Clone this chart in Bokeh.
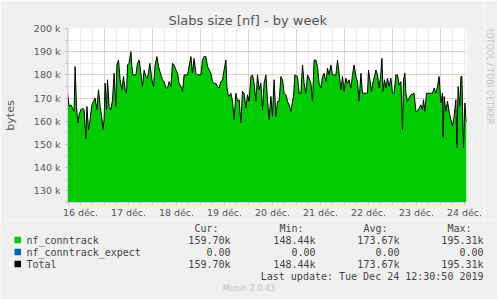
from bokeh.plotting import figure
from bokeh.layouts import column, row
from bokeh.models import FixedTicker, Range1d, ColumnDataSource
from bokeh.core.properties import value
from bokeh.embed import file_html
from bokeh.resources import INLINE

# ---------------- data ----------------
START = "2019-12-16 05:30"   # left edge of the graph, x = hours since START
hours = [0.0, 0.8, 1.7, 2.5, 3.3, 3.8, 4.5, 5.2, 5.8, 6.7, 7.5, 8.3, 9.2, 9.7, 10.5, 11.3, 12.2, 13.0, 13.8, 14.7,
         15.5, 16.3, 17.2, 17.7, 18.3, 18.8, 19.5, 20.0, 20.8, 21.7, 22.5, 23.3, 24.2, 24.7, 25.5, 26.3, 27.2, 28.0,
         28.8, 29.5, 30.0, 30.8, 31.7, 32.2, 32.7, 34.2, 35.0, 35.8, 36.7, 37.5, 38.3, 39.2, 40.0, 41.2, 42.2, 43.0,
         43.8, 44.7, 45.5, 46.7, 47.5, 48.3, 49.2,
         50.0, 50.8, 51.7, 52.5, 53.3, 54.2, 55.0, 55.8, 56.7, 57.5, 58.3, 60.0, 60.8, 61.7, 62.5, 63.3, 64.2, 65.0,
         66.7, 67.5, 68.3, 69.2, 70.0, 70.8, 71.7, 72.5, 73.3, 74.2, 75.0, 75.8, 76.7, 77.5, 78.3, 79.2, 79.7, 80.3,
         80.8, 81.7, 82.5, 83.3, 84.2, 85.0, 85.8, 86.7, 87.5, 88.3, 89.2, 90.0, 90.8, 91.7, 92.5, 93.3, 94.2, 95.0,
         95.8, 96.7, 97.5,
         98.3, 99.2, 100.0, 100.8, 101.7, 102.5, 103.3, 104.2, 105.0, 105.8, 106.7, 107.5, 108.3, 109.2, 110.0,
         110.8, 111.7, 112.5, 113.0, 113.7, 115.0, 115.8, 116.7, 117.5, 118.3, 119.2, 120.0, 120.8, 121.7, 122.5,
         123.3, 124.2, 125.0, 125.8, 126.7, 127.5, 128.3, 129.2, 130.0, 130.8, 131.7, 132.5, 134.2, 135.0, 135.8,
         136.7, 137.5, 138.3, 139.2, 140.0, 140.8, 141.7, 142.5, 143.3, 144.2, 145.0, 145.8, 146.7, 147.5,
         149.2, 150.0, 150.5, 151.2, 152.0, 152.8, 153.7, 154.2, 155.0, 155.8, 156.7, 157.2, 157.8, 158.5, 159.2,
         160.0, 160.8, 161.7, 162.5, 163.3, 164.2, 165.0, 165.8, 166.7, 167.5, 168.0, 168.7, 169.2, 170.0, 170.8,
         171.7, 173.3, 174.2, 175.0, 175.8, 176.7, 177.5, 178.0, 178.7, 179.5, 182.5, 183.3, 184.2, 185.0, 185.8,
         186.7, 187.5, 187.8, 188.3, 189.2, 190.0, 190.8, 191.7, 192.5, 193.3, 194.2, 194.7, 195.3, 196.2, 196.7,
         197.2, 197.5, 198.0, 198.7, 199.2, 199.5]
conntrack_k = [172.1, 166.4, 167.1, 165.7, 164.3, 183.6, 166.4, 159.3, 162.9, 165.0, 165.7, 165.0, 152.6, 166.4,
               156.4, 160.7, 167.1, 168.6, 170.0, 165.0, 173.6, 166.4, 161.4, 156.4, 160.7, 176.4, 165.0, 177.9,
               166.4, 165.0, 169.3, 180.7, 166.4, 184.3, 186.4, 177.9, 173.6, 179.3, 173.6, 172.1, 184.3, 185.0,
               190.0, 183.6, 180.0, 180.0, 185.0, 186.4, 180.7, 175.0, 182.1, 179.3, 178.6, 185.0, 177.9, 175.0,
               184.3, 187.9, 183.6, 180.0, 177.9, 177.1, 174.3,
               174.3, 177.1, 175.0, 185.0, 184.3, 182.1, 180.7, 176.4, 175.0, 172.9, 180.0, 180.0, 183.6, 187.9,
               180.7, 187.1, 180.7, 180.0, 180.0, 186.4, 187.9, 187.9, 183.6, 182.1, 180.7, 177.1, 176.4, 176.4,
               175.0, 174.3, 177.1, 177.9, 182.1, 186.4, 175.0, 171.4, 170.7, 172.1, 168.6, 160.7, 172.1, 168.6,
               169.3, 159.3, 172.9, 172.1, 165.7, 171.4, 168.6, 179.3, 180.0, 176.4, 168.6, 180.0, 173.6, 176.4,
               165.0,
               176.4, 180.0, 169.3, 160.7, 170.7, 162.1, 177.9, 162.1, 168.6, 168.6, 179.3, 177.9, 172.1, 171.4,
               168.6, 167.1, 164.3, 168.6, 170.7, 180.0, 179.3, 172.1, 172.1, 184.3, 176.4, 172.1, 180.0, 178.6,
               176.4, 168.6, 186.4, 186.4, 183.6, 176.4, 174.3, 179.3, 180.7, 177.1, 182.9, 180.0, 184.3, 180.0,
               180.0, 186.4, 180.7, 173.6, 179.3, 172.9, 178.6, 176.4, 177.9, 174.3, 180.0, 184.3, 179.3, 177.1,
               168.6, 180.7, 172.1,
               172.1, 172.1, 182.1, 177.9, 172.9, 177.1, 180.0, 182.1, 180.0, 174.3, 180.7, 187.1, 172.9, 177.9,
               174.3, 178.6, 175.0, 178.6, 172.1, 172.1, 180.0, 180.0, 175.7, 177.1, 156.4, 177.9, 180.7, 172.1,
               168.6, 170.0, 171.4, 172.1, 164.3, 164.3, 165.7, 167.1, 165.0, 169.3, 164.3, 172.1, 172.1, 174.3,
               172.1, 175.0, 179.3, 167.9, 172.1, 152.9, 170.7, 164.3, 168.6, 164.3, 160.7, 157.9, 162.1, 169.3,
               148.6, 175.0, 166.4, 179.3, 179.3, 166.4, 148.6, 167.9, 162.1, 159.7]
expect_k = [0.0] * len(conntrack_k)

day_labels = ["16 déc.", "17 déc.", "18 déc.", "19 déc.", "20 déc.", "21 déc.", "22 déc.", "23 déc.", "24 déc."]
y_tick_values = [130000, 140000, 150000, 160000, 170000, 180000, 190000, 200000]
y_tick_labels = ["130 k", "140 k", "150 k", "160 k", "170 k", "180 k", "190 k", "200 k"]

series_names = ["nf_conntrack", "nf_conntrack_expect", "Total"]
series_colors = ["#00CC00", "#0066B3", "#000000"]
stat_headers = ["Cur:", "Min:", "Avg:", "Max:"]
stat_values = [["159.70k", "148.44k", "173.67k", "195.31k"],
               ["0.00", "0.00", "0.00", "0.00"],
               ["159.70k", "148.44k", "173.67k", "195.31k"]]
title_text = "Slabs size [nf] - by week"
y_label = "bytes"
last_update = "Last update: Tue Dec 24 12:30:50 2019"
footer = "Munin 2.0.43"
watermark = "RRDTOOL / TOBI OETIKER"

# ---------------- derived ----------------
conn = [v * 1000 for v in conntrack_k]
expect_top = [c + e * 1000 for c, e in zip(conn, expect_k)]
total = expect_top
noon_hours = [6.5 + 24 * i for i in range(len(day_labels))]
midnight_hours = [18.5 + 24 * i for i in range(8)]
six_hours = [0.5 + 6 * i for i in range(34)]
minor_y = list(range(125000, 200001, 5000))

BG = "#F0F0F0"
TXT = "#555555"
LEG = "#444444"
FONT = "DejaVu Sans"
MONO = "DejaVu Sans Mono"

# ---------------- main graph ----------------
MAIN_W, MAIN_H = 484, 220
p = figure(width=MAIN_W, height=MAIN_H, title=title_text, output_backend="svg", toolbar_location=None,
           x_range=Range1d(0, 199.5), y_range=Range1d(125000, 200000),
           min_border_left=67, min_border_right=18, min_border_top=28, min_border_bottom=17,
           background_fill_color="white", border_fill_color=BG, outline_line_color=None)

p.title.align = "left"
p.title.offset = 101
p.title.standoff = 1
p.title.text_font = FONT
p.title.text_font_size = "13px"
p.title.text_font_style = "normal"
p.title.text_color = TXT

p.varea(x=hours, y1=0, y2=conn, fill_color=series_colors[0])
p.varea(x=hours, y1=conn, y2=expect_top, fill_color=series_colors[1])
p.line(x=hours, y=total, line_color="black", line_width=1)

axis_col = "#C8CEEC"
p.yaxis.ticker = FixedTicker(ticks=y_tick_values, minor_ticks=minor_y)
p.yaxis.major_label_overrides = {v: l for v, l in zip(y_tick_values, y_tick_labels)}
p.xaxis.ticker = FixedTicker(ticks=noon_hours, minor_ticks=six_hours)
p.xaxis.major_label_overrides = {v: l for v, l in zip(noon_hours, day_labels)}
for ax in (p.xaxis[0], p.yaxis[0]):
    ax.axis_line_color = axis_col
    ax.major_label_text_font = FONT
    ax.major_label_text_font_size = "9.5px"
    ax.major_label_text_color = TXT
    ax.major_tick_in = 0
    ax.major_tick_out = 2
    ax.minor_tick_in = 0
    ax.minor_tick_out = 2
    ax.minor_tick_line_color = "#BBBBBB"
p.yaxis.major_tick_line_color = "#F08080"
p.yaxis.major_label_standoff = 5
p.yaxis.axis_label = y_label
p.yaxis.axis_label_text_font = FONT
p.yaxis.axis_label_text_font_size = "11px"
p.yaxis.axis_label_text_font_style = "normal"
p.yaxis.axis_label_text_color = TXT
p.yaxis.axis_label_standoff = 14
p.xaxis.major_tick_line_color = None
p.xaxis.major_label_standoff = 2

p.ygrid.ticker = FixedTicker(ticks=y_tick_values, minor_ticks=minor_y)
p.xgrid.ticker = FixedTicker(ticks=midnight_hours, minor_ticks=six_hours)
for g in (p.xgrid[0], p.ygrid[0]):
    g.grid_line_color = "#F2A8A8"
    g.grid_line_dash = "1 1"
    g.minor_grid_line_color = "#D6D6D6"
    g.minor_grid_line_dash = "1 1"

# ---------------- watermark strip (right) ----------------
WM_W = 497 - MAIN_W
wm = figure(width=WM_W, height=MAIN_H, output_backend="svg", toolbar_location=None,
            x_range=Range1d(0, WM_W), y_range=Range1d(MAIN_H, 0), min_border=0,
            background_fill_color=BG, border_fill_color=BG, outline_line_color=None)
wm.axis.visible = False
wm.grid.visible = False
wm.text(x=[5], y=[56], text=[watermark], angle=-1.5708, text_font=value(FONT), text_font_size="8px",
        text_color="#C4C4C4", text_align="center", text_baseline="middle")

# ---------------- legend block (bottom) ----------------
LEG_W, LEG_H = 497, 299 - MAIN_H
lg = figure(width=LEG_W, height=LEG_H, output_backend="svg", toolbar_location=None,
            x_range=Range1d(0, LEG_W), y_range=Range1d(LEG_H, 0), min_border=0,
            background_fill_color=BG, border_fill_color=BG, outline_line_color=None)
lg.axis.visible = False
lg.grid.visible = False

header_y = 7.5
row_y = [19.5, 31.5, 43.5]
col_x = [188, 273, 357, 441]

left_src = ColumnDataSource(dict(
    x=[c + 6 for c in col_x] + [26] * len(series_names),
    y=[header_y] * len(stat_headers) + row_y,
    t=stat_headers + series_names))
lg.text(x="x", y="y", text="t", source=left_src, text_font=value(MONO), text_font_size="10px",
        text_color=LEG, text_align="left", text_baseline="middle")

rx, ry, rt = [], [], []
for i in range(len(series_names)):
    for j, v in enumerate(stat_values[i]):
        rx.append(col_x[j] + 42)
        ry.append(row_y[i])
        rt.append(v)
rx.append(483)
ry.append(55.5)
rt.append(last_update)
right_src = ColumnDataSource(dict(x=rx, y=ry, t=rt))
lg.text(x="x", y="y", text="t", source=right_src, text_font=value(MONO), text_font_size="10px",
        text_color=LEG, text_align="right", text_baseline="middle")

lg.quad(left=[14] * 3, right=[20.5] * 3, top=[y - 3.3 for y in row_y], bottom=[y + 3.3 for y in row_y],
        fill_color=series_colors, line_color=None)

lg.text(x=[248.5], y=[68], text=[footer], text_font=value(FONT), text_font_size="8px",
        text_color="#C4C4C4", text_align="center", text_baseline="middle")

layout = column(row(p, wm, spacing=0), lg, spacing=0)
open("out.html", "w").write(file_html(layout, INLINE))
